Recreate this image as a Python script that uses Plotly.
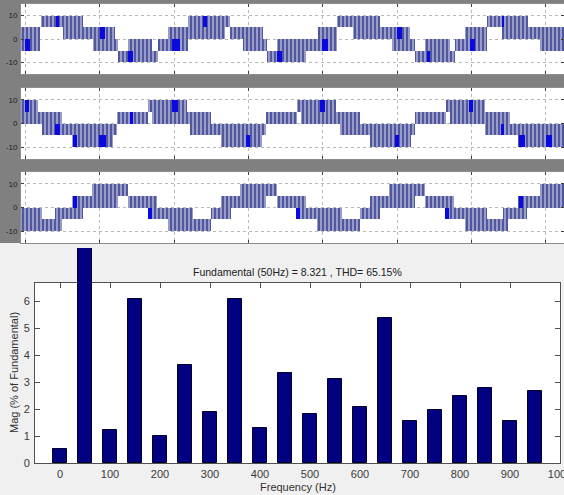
import plotly.graph_objects as go

W, H = 564, 495

# ---------------- three-phase multilevel inverter output ----------------
# PWM switching bands: (t_start_ms, t_end_ms, v_low, v_high)
phase_a_bands = [
    (-0.63, 1.92, -5, 5), (2.06, 5.02, 5, 10), (5.02, 7.71, 0, 10), (7.71, 9.06, 0, 5),
    (9.06, 12.02, -5, 5), (12.02, 12.42, -5, 0), (12.42, 13.77, -10, -5), (13.77, 17.0, -10, 0),
    (17.0, 17.81, -10, -5), (17.81, 19.15, -5, 0), (19.15, 21.84, -5, 5), (21.84, 26.85, 0, 10),
    (26.85, 27.50, 5, 10), (27.50, 29.25, 0, 5), (29.25, 31.94, -5, 5), (31.94, 32.48, -5, 0),
    (32.48, 33.82, -10, -5), (33.82, 37.73, -10, 0), (37.73, 39.34, -5, 0), (39.34, 41.90, -5, 5),
    (41.90, 44.05, 5, 10), (44.05, 47.69, 0, 10), (47.69, 49.30, 0, 5), (49.30, 51.72, -5, 5),
    (51.72, 52.40, -5, 0), (52.40, 53.74, -10, -5), (53.74, 57.11, -10, 0), (57.11, 57.78, -10, -5),
    (57.78, 59.13, -5, 0), (59.13, 62.09, -5, 5), (62.09, 64.11, 5, 10), (64.11, 67.60, 0, 10),
    (67.60, 69.21, 0, 5), (69.21, 73.0, -5, 5),
]
# intervals of very dense switching (appear solid)
phase_a_dense = [
    (-0.09, 0.58, -5, 0), (4.08, 4.48, 5, 10), (10.0, 10.67, 0, 5), (13.77, 14.44, -10, -5),
    (19.69, 20.77, -5, 0), (23.86, 24.40, 5, 10), (33.82, 34.49, -10, -5), (39.88, 40.69, -5, 0),
    (49.97, 50.64, 0, 5), (54.01, 54.41, -10, -5), (59.80, 60.47, -5, 0), (64.11, 64.37, 5, 10),
]

phase_b_bands = [
    (-0.63, 1.66, 0, 10), (1.66, 2.19, 0, 5), (2.19, 4.89, -5, 5), (4.89, 6.23, -5, 0),
    (6.23, 11.75, -10, 0), (11.75, 12.29, -5, 0), (12.29, 16.46, 0, 5), (16.46, 17.0, 5, 10),
    (17.0, 21.71, 0, 10), (21.71, 22.11, 0, 5), (22.11, 24.94, -5, 5), (24.94, 26.29, -5, 0),
    (26.29, 31.80, -10, 0), (31.80, 32.34, -5, 0), (32.34, 36.51, 0, 5), (36.51, 37.05, 5, 10),
    (37.05, 41.76, 0, 10), (41.76, 42.30, 0, 5), (42.30, 44.99, -5, 5), (44.99, 46.34, -5, 0),
    (46.34, 51.86, -10, 0), (51.86, 52.40, -5, 0), (52.40, 56.57, 0, 5), (56.57, 57.11, 5, 10),
    (57.11, 61.82, 0, 10), (61.82, 65.18, -5, 5), (65.18, 66.26, -5, 0), (66.26, 73.0, -10, 0),
]
phase_b_dense = [
    (-0.09, 0.44, 5, 10), (3.94, 4.62, -5, 0), (6.37, 6.90, -10, -5), (9.87, 10.81, -10, -5),
    (14.04, 14.44, 0, 5), (19.69, 20.50, 5, 10), (29.65, 30.19, -10, -5), (39.61, 40.28, 5, 10),
    (49.70, 50.24, -10, -5), (59.66, 60.20, 5, 10), (63.97, 64.37, -5, 0), (66.39, 67.20, -10, -5),
    (70.03, 70.83, -10, -5),
]

phase_c_bands = [
    (-0.63, 2.19, -10, 0), (2.19, 3.94, -10, -5), (3.94, 4.89, -10, 0), (4.89, 6.23, -5, 0),
    (6.23, 7.71, -5, 5), (7.71, 8.92, 0, 5), (8.92, 12.42, 0, 10), (12.42, 13.77, 5, 10),
    (13.77, 16.46, 0, 5), (16.46, 17.67, -5, 5), (17.67, 19.15, -5, 0), (19.15, 22.52, -10, 0),
    (22.52, 24.94, -10, -5), (24.94, 26.29, -5, 0), (26.29, 27.63, -5, 5), (27.63, 28.84, 0, 5),
    (28.84, 32.34, 0, 10), (32.34, 33.82, 5, 10), (33.82, 36.51, 0, 5), (36.51, 37.73, -5, 5),
    (37.73, 39.21, -5, 0), (39.21, 42.57, -10, 0), (42.57, 44.99, -10, -5), (44.99, 46.34, -5, 0),
    (46.34, 47.69, -5, 5), (47.69, 48.90, 0, 5), (48.90, 52.40, 0, 10), (52.40, 53.74, 5, 10),
    (53.74, 56.43, 0, 5), (56.43, 57.64, -5, 5), (57.64, 59.13, -5, 0), (59.13, 62.09, -10, 0),
    (62.09, 64.24, -10, -5), (64.24, 64.91, -10, 0), (64.91, 66.26, -5, 0), (66.26, 67.47, -5, 5),
    (67.47, 69.21, 0, 5), (69.21, 73.0, 0, 10),
]
phase_c_dense = [
    (6.37, 6.90, 0, 5), (16.46, 17.0, -5, 0), (36.38, 36.92, -5, 0), (56.43, 56.97, -5, 0),
    (66.39, 66.93, 0, 5),
]

volt_ticks = [-10, 0, 10]

# ---------------- FFT analysis ----------------
fundamental_mag = 8.321
thd_pct = 65.15
harm_freq_hz = [0, 50, 100, 150, 200, 250, 300, 350, 400, 450,
                500, 550, 600, 650, 700, 750, 800, 850, 900, 950]
harm_mag_pct = [0.52, fundamental_mag / fundamental_mag * 100, 1.22, 6.08, 1.02, 3.63, 1.88, 6.07, 1.30, 3.33,
                1.82, 3.10, 2.09, 5.37, 1.55, 1.96, 2.49, 2.77, 1.58, 2.67]
freq_ticks = list(range(0, 1001, 100))
mag_ticks = [0, 1, 2, 3, 4, 5, 6]

# ---------------- layout geometry (pixels) ----------------
def yp(px):
    return 1 - px / H

panel_px = [(4, 74), (88, 159), (172, 243)]
bar_left, bar_right, bar_top, bar_bottom = 35, 560, 282.7, 463.3
fig_top = 248  # upper edge of the spectrum window
mag_top = 6.68
t_range = [-0.63, 72.45]

FONT = "Liberation Sans, Arial, sans-serif"
GRAY_BG = "#808080"
LIGHT_BG = "#f0f0f0"

fig = go.Figure()


def band_bars(bands, axis_id, **style):
    return go.Bar(
        x=[(s + e) / 2 for s, e, lo, hi in bands],
        y=[hi - lo for s, e, lo, hi in bands],
        base=[lo for s, e, lo, hi in bands],
        width=[e - s for s, e, lo, hi in bands],
        xaxis="x" + axis_id, yaxis="y" + axis_id,
        showlegend=False, hoverinfo="skip", **style,
    )


phases = [(phase_a_bands, phase_a_dense), (phase_b_bands, phase_b_dense), (phase_c_bands, phase_c_dense)]
for i, (bands, dense) in enumerate(phases):
    aid = "" if i == 0 else str(i + 1)
    fig.add_trace(band_bars(
        bands, aid,
        marker=dict(
            color="#9398c8",
            line=dict(width=0),
            pattern=dict(shape="|", size=4, solidity=0.3, fgcolor="#22287a",
                         bgcolor="#979cca", fillmode="replace"),
        ),
    ))
    fig.add_trace(band_bars(dense, aid, marker=dict(color="#0a0ae0", line=dict(width=0))))

# spectrum bars (axis 5 shares the scale of axis 4, reaching up to the window edge)
fig.add_trace(go.Bar(
    x=harm_freq_hz, y=harm_mag_pct, width=27,
    marker=dict(color="#000080", line=dict(color="#00002a", width=1)),
    xaxis="x5", yaxis="y5", showlegend=False, hoverinfo="skip",
))
fig.add_trace(go.Scatter(x=[None], y=[None], xaxis="x4", yaxis="y4",
                         showlegend=False, hoverinfo="skip"))

layout_axes = {}
for i, (top, bot) in enumerate(panel_px):
    n = "" if i == 0 else str(i + 1)
    layout_axes["xaxis" + n] = dict(
        domain=[21 / W, 1], range=t_range, anchor="y" + n, automargin=False,
        tick0=0, dtick=10, showticklabels=False,
        ticks="inside", ticklen=3, tickcolor="#404040",
        showgrid=True, gridcolor="#b8b8b8", griddash="dot", gridwidth=1,
        zeroline=False, showline=True, linecolor="#8c8c8c", mirror="ticks",
    )
    layout_axes["yaxis" + n] = dict(
        domain=[yp(bot), yp(top)], range=[-15, 15], anchor="x" + n, automargin=False,
        tickvals=volt_ticks, ticktext=[str(v) for v in volt_ticks],
        tickfont=dict(family=FONT, size=8, color="#202020"),
        ticks="inside", ticklen=3, tickcolor="#404040", ticklabelstandoff=1,
        showgrid=True, gridcolor="#b8b8b8", griddash="dot", gridwidth=1,
        zeroline=False, showline=True, linecolor="#8c8c8c", mirror="ticks",
    )

layout_axes["xaxis4"] = dict(
    domain=[bar_left / W, bar_right / W], range=[-50, 1000], anchor="y4", automargin=False,
    tickvals=freq_ticks, ticks="inside", ticklen=5, tickcolor="#505050",
    tickfont=dict(family=FONT, size=11, color="#3a3a3a"), ticklabeloverflow="allow",
    showgrid=False, zeroline=False, showline=True, linecolor="#505050", mirror="ticks",
)
layout_axes["yaxis4"] = dict(
    domain=[yp(bar_bottom), yp(bar_top)], range=[0, mag_top], anchor="x4", automargin=False,
    tickvals=mag_ticks, ticks="inside", ticklen=5, tickcolor="#505050",
    tickfont=dict(family=FONT, size=11, color="#3a3a3a"), ticklabelstandoff=2,
    showgrid=False, zeroline=False, showline=True, linecolor="#505050", mirror="ticks",
)
layout_axes["xaxis5"] = dict(
    domain=[bar_left / W, bar_right / W], range=[-50, 1000], anchor="y5",
    visible=False, automargin=False,
)
layout_axes["yaxis5"] = dict(
    domain=[yp(bar_bottom), yp(fig_top)],
    range=[0, mag_top * (bar_bottom - fig_top) / (bar_bottom - bar_top)],
    anchor="x5", visible=False, automargin=False,
)

shapes = [
    dict(type="rect", xref="paper", yref="paper", x0=0, x1=1, y0=yp(243), y1=1,
         fillcolor=GRAY_BG, line=dict(width=0), layer="below"),
]
for top, bot in panel_px:
    shapes.append(dict(type="rect", xref="paper", yref="paper", x0=21 / W, x1=1,
                       y0=yp(bot), y1=yp(top), fillcolor="white",
                       line=dict(width=0), layer="below"))
shapes.append(dict(type="rect", xref="paper", yref="paper", x0=bar_left / W, x1=bar_right / W,
                   y0=yp(bar_bottom), y1=yp(bar_top), fillcolor="white",
                   line=dict(width=0), layer="below"))

bar_cx = (bar_left + bar_right) / 2 / W
annotations = [
    dict(text=f"Fundamental (50Hz) = {fundamental_mag} , THD= {thd_pct}%",
         x=bar_cx, y=yp(271.5), xref="paper", yref="paper", showarrow=False,
         font=dict(family=FONT, size=10.5, color="#202020"), xanchor="center", yanchor="middle"),
    dict(text="Frequency (Hz)", x=bar_cx, y=yp(487), xref="paper", yref="paper",
         showarrow=False, font=dict(family=FONT, size=11, color="#303030"),
         xanchor="center", yanchor="middle"),
    dict(text="Mag (% of Fundamental)", x=14 / W, y=yp((bar_top + bar_bottom) / 2),
         xref="paper", yref="paper", showarrow=False, textangle=-90,
         font=dict(family=FONT, size=11, color="#303030"),
         xanchor="center", yanchor="middle"),
]

fig.update_layout(
    width=W, height=H,
    margin=dict(l=0, r=0, t=0, b=0, autoexpand=False),
    paper_bgcolor=LIGHT_BG, plot_bgcolor="rgba(0,0,0,0)",
    barmode="overlay", bargap=0,
    shapes=shapes, annotations=annotations,
    **layout_axes,
)

fig.write_html("out.html")
